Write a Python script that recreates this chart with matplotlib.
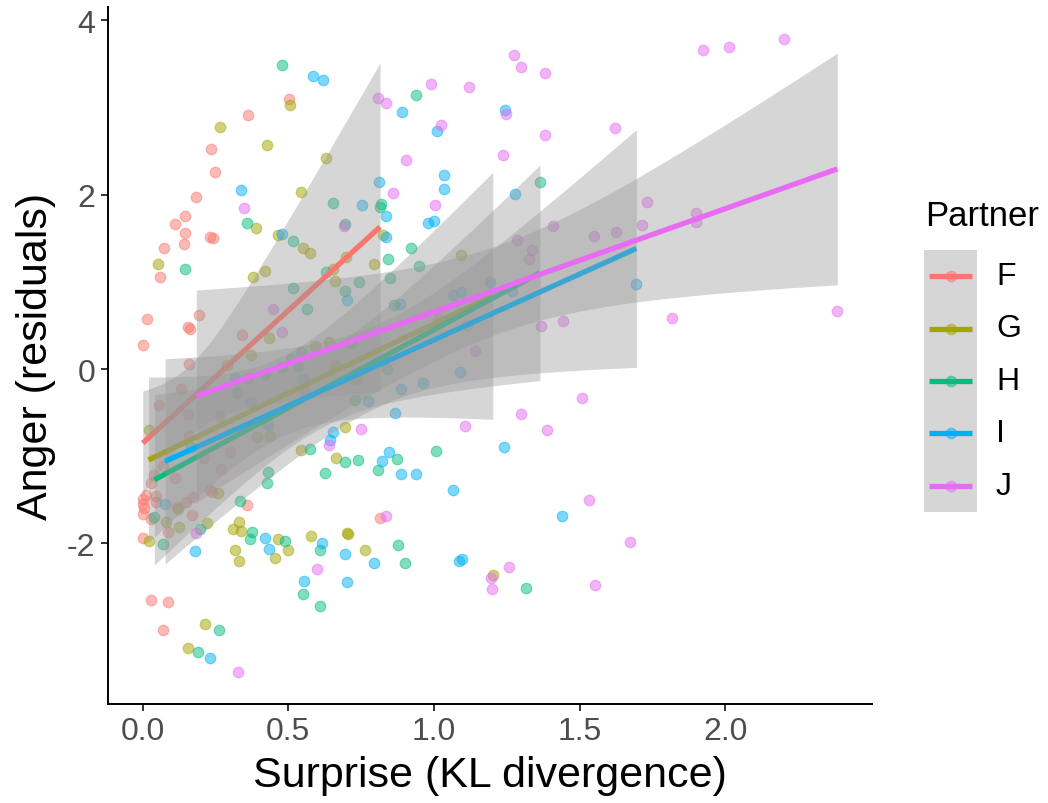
import numpy as np
import matplotlib
matplotlib.use("Agg")
import matplotlib.pyplot as plt

plt.rcParams["font.family"] = ["Liberation Sans", "DejaVu Sans"]

partners = ["F", "G", "H", "I", "J"]
colors = ["#F8766D", "#A3A500", "#00BF7D", "#00B0F6", "#E76BF3"]

# surprise (KL divergence) and anger residuals, one pair of lists per partner
f_x = [0.361, 0.504, 0.235, 0.247, 0.182, 0.144, 0.112, 0.144, 0.231, 0.242,
       0.073, 0.143, 0.061, 0.015, 0.194, 0.155, 0.163, 0.000, 0.160, 0.341,
       0.363, 0.131, 0.057, 0.156, 0.265, 0.159, 0.212, 0.069, 0.111, 0.039,
       0.027, 0.000, 0.002, 0.000, 0.045, 0.045, 0.119, 0.148, 0.171, 0.168,
       0.230, 0.237, 0.088, 0.000, 0.357, 0.030, 0.088, 0.070, 0.815,
       0.005, 0.012, 0.030, 0.300, 0.270]
f_y = [2.92, 3.10, 2.52, 2.26, 1.97, 1.75, 1.66, 1.56, 1.52, 1.50,
       1.39, 1.44, 1.06, 0.57, 0.62, 0.48, 0.46, 0.27, 0.06, 0.39,
       -0.10, -0.23, -0.41, -0.52, -0.54, -0.77, -1.02, -1.11, -1.25, -1.22,
       -1.31, -1.49, -1.55, -1.66, -1.46, -1.53, -1.58, -1.53, -1.47, -1.67,
       -1.39, -1.41, -1.87, -1.94, -1.56, -2.65, -2.67, -3.00, -1.71,
       -1.60, -1.45, -1.72, -0.95, -1.15]

g_x = [0.506, 0.266, 0.428, 0.629, 0.544, 0.388, 0.463, 0.825, 0.053, 0.378,
       0.419, 0.549, 0.575, 0.698, 0.654, 0.661, 0.795, 1.092, 0.432, 0.371,
       0.288, 0.592, 0.639, 0.661, 0.732, 0.020, 0.394, 0.436, 0.694, 0.542,
       0.665, 0.260, 0.121, 0.079, 0.123, 0.219, 0.022, 0.331, 0.309, 0.337,
       0.316, 0.329, 0.464, 0.499, 0.454, 0.578, 0.700, 0.705, 0.764, 0.213,
       0.156, 1.202]
g_y = [3.03, 2.78, 2.57, 2.42, 2.03, 1.62, 1.54, 1.54, 1.21, 1.05,
       1.12, 1.39, 1.33, 1.28, 1.15, 1.01, 1.21, 1.31, 0.36, 0.16,
       0.05, 0.26, 0.31, 0.05, -0.11, -0.70, -0.78, -0.77, -0.67, -0.93,
       -1.02, -1.42, -1.61, -1.75, -1.81, -1.77, -1.97, -1.76, -1.84, -1.86,
       -2.08, -2.20, -1.95, -2.08, -2.17, -1.92, -1.88, -1.89, -2.08, -2.92,
       -3.20, -2.36]

h_x = [0.477, 0.938, 0.654, 0.694, 0.359, 0.517, 1.364, 0.819, 0.816, 0.145,
       0.629, 0.743, 0.693, 0.517, 0.922, 0.841, 0.950, 0.848, 0.863, 0.564,
       0.715, 0.543, 0.510, 0.534, 0.420, 0.477, 0.838, 0.325, 0.730, 0.167,
       0.576, 0.694, 0.740, 0.430, 0.625, 1.006, 0.873, 0.808, 0.426, 0.333,
       0.040, 0.198, 0.376, 0.367, 0.489, 0.609, 0.070, 0.550, 0.609, 0.261,
       0.189, 0.877, 0.900, 1.315]
h_y = [3.49, 3.14, 1.90, 1.66, 1.68, 1.47, 2.15, 1.89, 1.86, 1.15,
       1.11, 1.00, 0.90, 0.93, 1.39, 1.26, 1.18, 1.04, 0.74, 0.69,
       0.30, 0.20, 0.12, 0.03, -0.06, 0.02, 0.00, -0.28, -0.35, -0.90,
       -0.92, -1.07, -1.04, -1.18, -1.19, -0.94, -1.03, -1.16, -1.31, -1.52,
       -1.70, -1.83, -1.87, -1.95, -1.97, -2.08, -2.01, -2.58, -2.72, -3.00,
       -3.25, -2.02, -2.23, -2.51]

i_x = [0.584, 0.619, 0.338, 0.754, 0.477, 0.892, 1.244, 1.010, 0.812, 1.033,
       1.033, 1.280, 0.837, 0.980, 0.999, 0.836, 0.700, 0.883, 1.064, 1.094,
       1.193, 1.267, 0.318, 0.373, 0.549, 0.430, 0.773, 0.653, 0.644, 1.089,
       0.961, 0.888, 0.865, 1.241, 0.846, 0.821, 0.888, 0.940, 1.064, 1.440,
       0.793, 1.086, 1.097, 0.178, 0.419, 0.434, 0.616, 0.696, 0.700, 0.553,
       0.231, 1.695, 0.077]
i_y = [3.36, 3.32, 2.05, 1.88, 1.55, 2.95, 2.97, 2.73, 2.15, 2.23,
       2.07, 2.01, 1.75, 1.67, 1.70, 1.52, 0.79, 0.75, 0.85, 0.88,
       1.00, 0.89, -0.10, -0.38, -0.11, -0.64, -0.37, -0.72, -0.82, -0.04,
       -0.16, -0.23, -0.51, -0.89, -0.95, -1.05, -1.21, -1.20, -1.39, -1.69,
       -2.23, -2.20, -2.18, -2.09, -1.94, -2.07, -2.00, -2.12, -2.44, -2.43,
       -3.31, 0.98, -1.55]

j_x = [1.276, 1.299, 1.380, 0.989, 1.119, 0.808, 0.836, 1.246, 1.024, 1.381,
       1.622, 0.905, 1.236, 0.860, 1.003, 0.348, 0.690, 1.409, 1.550, 1.624,
       1.286, 1.336, 1.326, 1.924, 2.014, 2.203, 1.733, 1.715, 1.899, 1.899,
       0.447, 0.477, 0.557, 1.015, 1.115, 1.367, 1.442, 1.141, 0.750, 0.640,
       1.507, 1.298, 1.387, 1.105, 0.184, 0.326, 0.597, 0.836, 1.533, 1.673,
       1.195, 1.199, 1.259, 1.554, 1.818, 2.385]
j_y = [3.60, 3.47, 3.40, 3.27, 3.23, 3.11, 3.05, 2.93, 2.80, 2.68,
       2.76, 2.40, 2.45, 2.02, 1.88, 1.85, 1.64, 1.64, 1.53, 1.57,
       1.48, 1.37, 1.26, 3.66, 3.69, 3.79, 1.92, 1.65, 1.79, 1.69,
       0.69, 0.43, -0.25, 0.57, 0.50, 0.49, 0.55, 0.21, -0.69, -0.87,
       -0.33, -0.52, -0.70, -0.65, -1.88, -3.48, -2.30, -1.69, -1.50, -1.98,
       -2.40, -2.52, -2.27, -2.48, 0.58, 0.66]

xs = [f_x, g_x, h_x, i_x, j_x]
ys = [f_y, g_y, h_y, i_y, j_y]


def t_975(df):
    # Cornish-Fisher expansion of the Student t quantile
    z = 1.959964
    return (z + (z**3 + z) / (4 * df)
            + (5 * z**5 + 16 * z**3 + 3 * z) / (96 * df**2))


def lm_band(x, y, n=80):
    x = np.asarray(x)
    y = np.asarray(y)
    slope, icpt = np.polyfit(x, y, 1)
    resid = y - (icpt + slope * x)
    df = len(x) - 2
    s = np.sqrt(np.sum(resid**2) / df)
    sxx = np.sum((x - x.mean())**2)
    grid = np.linspace(x.min(), x.max(), n)
    fit = icpt + slope * grid
    se = s * np.sqrt(1 / len(x) + (grid - x.mean())**2 / sxx)
    half = t_975(df) * se
    return grid, fit, fit - half, fit + half


fig = plt.figure(figsize=(10.48, 8.04), dpi=100)
ax = fig.add_axes([108 / 1048, 99 / 804, 764 / 1048, 697 / 804])

for x, y, c in zip(xs, ys, colors):
    ax.scatter(x, y, s=58, color=c, alpha=0.5, linewidths=0.8, zorder=1)

z = 2
for x, y, c in zip(xs, ys, colors):
    grid, fit, lo, hi = lm_band(x, y)
    ax.fill_between(grid, lo, hi, color="#999999", alpha=0.4, lw=0, zorder=z)
    ax.plot(grid, fit, color=c, lw=3.8, solid_capstyle="butt", zorder=z + 1)
    z += 2

all_x = np.concatenate([np.asarray(v) for v in xs])
all_y = np.concatenate([np.asarray(v) for v in ys])
xr = all_x.max() - all_x.min()
yr = all_y.max() - all_y.min()
ax.set_xlim(all_x.min() - 0.05 * xr, all_x.max() + 0.05 * xr)
ax.set_ylim(all_y.min() - 0.05 * yr, all_y.max() + 0.05 * yr)

ax.set_xticks([0.0, 0.5, 1.0, 1.5, 2.0])
ax.set_xticklabels(["0.0", "0.5", "1.0", "1.5", "2.0"])
ax.set_yticks([-2, 0, 2, 4])
ax.set_yticklabels(["-2", "0", "2", "4"])

for side in ["top", "right"]:
    ax.spines[side].set_visible(False)
for side in ["left", "bottom"]:
    ax.spines[side].set_linewidth(1.4)
    ax.spines[side].set_color("black")
ax.tick_params(axis="both", length=5, width=1.4, color="#333333",
               labelsize=23, labelcolor="#4D4D4D", pad=4)

ax.set_xlabel("Surprise (KL divergence)", fontsize=31, labelpad=6)
ax.set_ylabel("Anger (residuals)", fontsize=31, labelpad=8)

# legend: grey key column with a line and point per partner
key_ax = fig.add_axes([924 / 1048, 291 / 804, 53 / 1048, 262 / 804])
key_ax.set_facecolor("#D6D6D6")
key_ax.set_xlim(0, 1)
key_ax.set_ylim(0, 5)
for k, c in enumerate(colors):
    yk = 4.5 - k
    key_ax.plot([0.1, 0.9], [yk, yk], color=c, lw=3.8, solid_capstyle="butt")
    key_ax.scatter([0.5], [yk], s=58, color=c, alpha=0.5, linewidths=0.8,
                   zorder=3)
    fig.text(996 / 1048, 1 - (277 + 52.5 * k) / 804, partners[k],
             fontsize=23, va="center", ha="left")
key_ax.set_xticks([])
key_ax.set_yticks([])
for sp in key_ax.spines.values():
    sp.set_visible(False)
fig.text(925 / 1048, 1 - 217 / 804, "Partner", fontsize=25,
         va="center", ha="left")

fig.savefig("out.png", dpi=100)
